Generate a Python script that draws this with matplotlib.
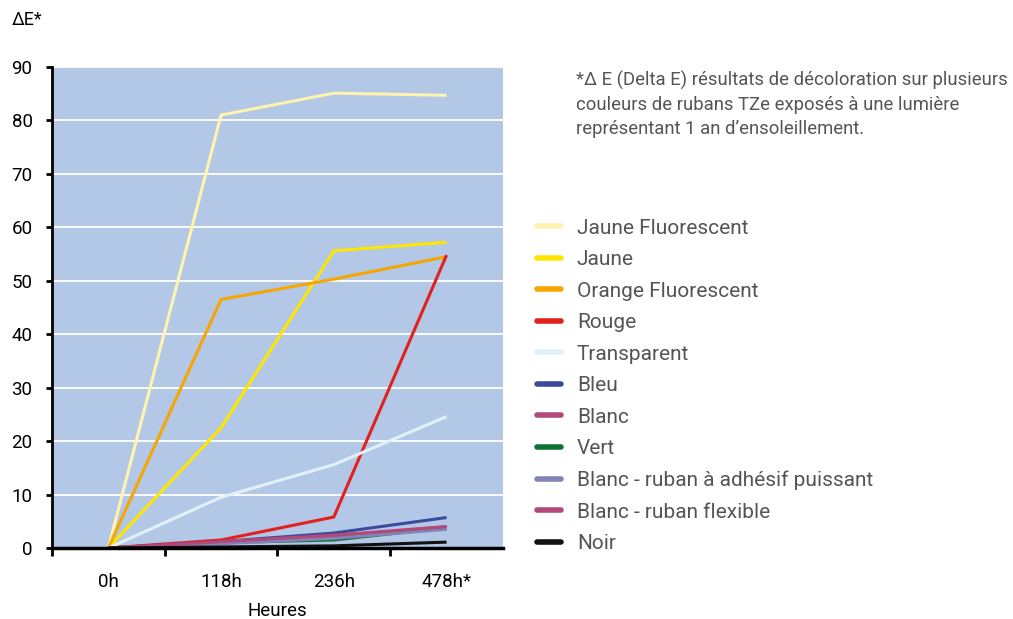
import matplotlib

matplotlib.use('Agg')
import matplotlib.pyplot as plt

plt.rcParams['font.family'] = ['Roboto', 'DejaVu Sans']

hours = ["0h", "118h", "236h", "478h*"]

jaune_fluo = [0, 81.0, 85.1, 84.7]
jaune = [0, 22.5, 55.6, 57.2]
orange_fluo = [0, 46.5, 50.3, 54.5]
rouge = [0, 1.5, 5.8, 54.8]
transparent = [0, 9.5, 15.6, 24.6]
bleu = [0, 1.2, 2.8, 5.7]
blanc = [0, 1.0, 2.2, 4.0]
vert = [0, 1.0, 1.5, 3.8]
blanc_adhesif = [0, 0.8, 1.8, 3.5]
blanc_flexible = [0, 1.2, 2.4, 4.0]
noir = [0, 0.2, 0.4, 1.1]

series = [
    ("Jaune Fluorescent", jaune_fluo, "#fff3b0"),
    ("Jaune", jaune, "#ffe600"),
    ("Orange Fluorescent", orange_fluo, "#f7a600"),
    ("Rouge", rouge, "#e2211c"),
    ("Transparent", transparent, "#e2f1f8"),
    ("Bleu", bleu, "#3a4b9b"),
    ("Blanc", blanc, "#b3487a"),
    ("Vert", vert, "#0e7236"),
    ("Blanc - ruban à adhésif puissant", blanc_adhesif, "#8383b5"),
    ("Blanc - ruban flexible", blanc_flexible, "#b3487a"),
    ("Noir", noir, "#111111"),
]

fig = plt.figure(figsize=(10.13, 6.19), dpi=100)
ax = fig.add_axes([0.0513, 0.1147, 0.4452, 0.7771])
ax.set_facecolor("#b2c8e6")

x = list(range(len(hours)))
for name, vals, col in series:
    ax.plot(x, vals, color=col, lw=2.2, label=name, solid_capstyle='butt')

ax.set_xlim(-0.5, 3.5)
ax.set_ylim(0, 90)
ax.set_yticks(range(0, 91, 10))
ax.yaxis.grid(True, color="white", lw=1.3)
ax.set_axisbelow(True)

ax.set_xticks([i + 0.5 for i in range(-1, 3)])
ax.set_xticklabels([])
ax.set_xticks(x, minor=True)
ax.set_xticklabels(hours, minor=True, fontsize=13.5)
ax.tick_params(axis='x', which='major', length=6, width=2, direction='out')
ax.tick_params(axis='x', which='minor', length=0, pad=18)
ax.tick_params(axis='y', length=4, width=2, labelsize=13.5, pad=10)

for s in ["top", "right"]:
    ax.spines[s].set_visible(False)
ax.spines["left"].set_linewidth(2)
ax.spines["bottom"].set_linewidth(2.5)

ax.set_xlabel("Heures", fontsize=13.5, labelpad=8)
fig.text(0.012, 0.967, "ΔE*", fontsize=13, va="center")

fig.text(0.569, 0.885,
         "*Δ E (Delta E) résultats de décoloration sur plusieurs\n"
         "couleurs de rubans TZe exposés à une lumière\n"
         "représentant 1 an d’ensoleillement.",
         fontsize=13.3, color="#555555", va="top", linespacing=1.42)

leg = ax.legend(loc="upper left", bbox_to_anchor=(0.512, 0.677),
                bbox_transform=fig.transFigure, frameon=False,
                fontsize=15, handlelength=1.15, handletextpad=0.75,
                labelspacing=0.6)
for t in leg.get_texts():
    t.set_color("#555555")
for h in leg.get_lines():
    h.set_linewidth(4)
    h.set_solid_capstyle('round')

fig.savefig("out.png", dpi=100)
